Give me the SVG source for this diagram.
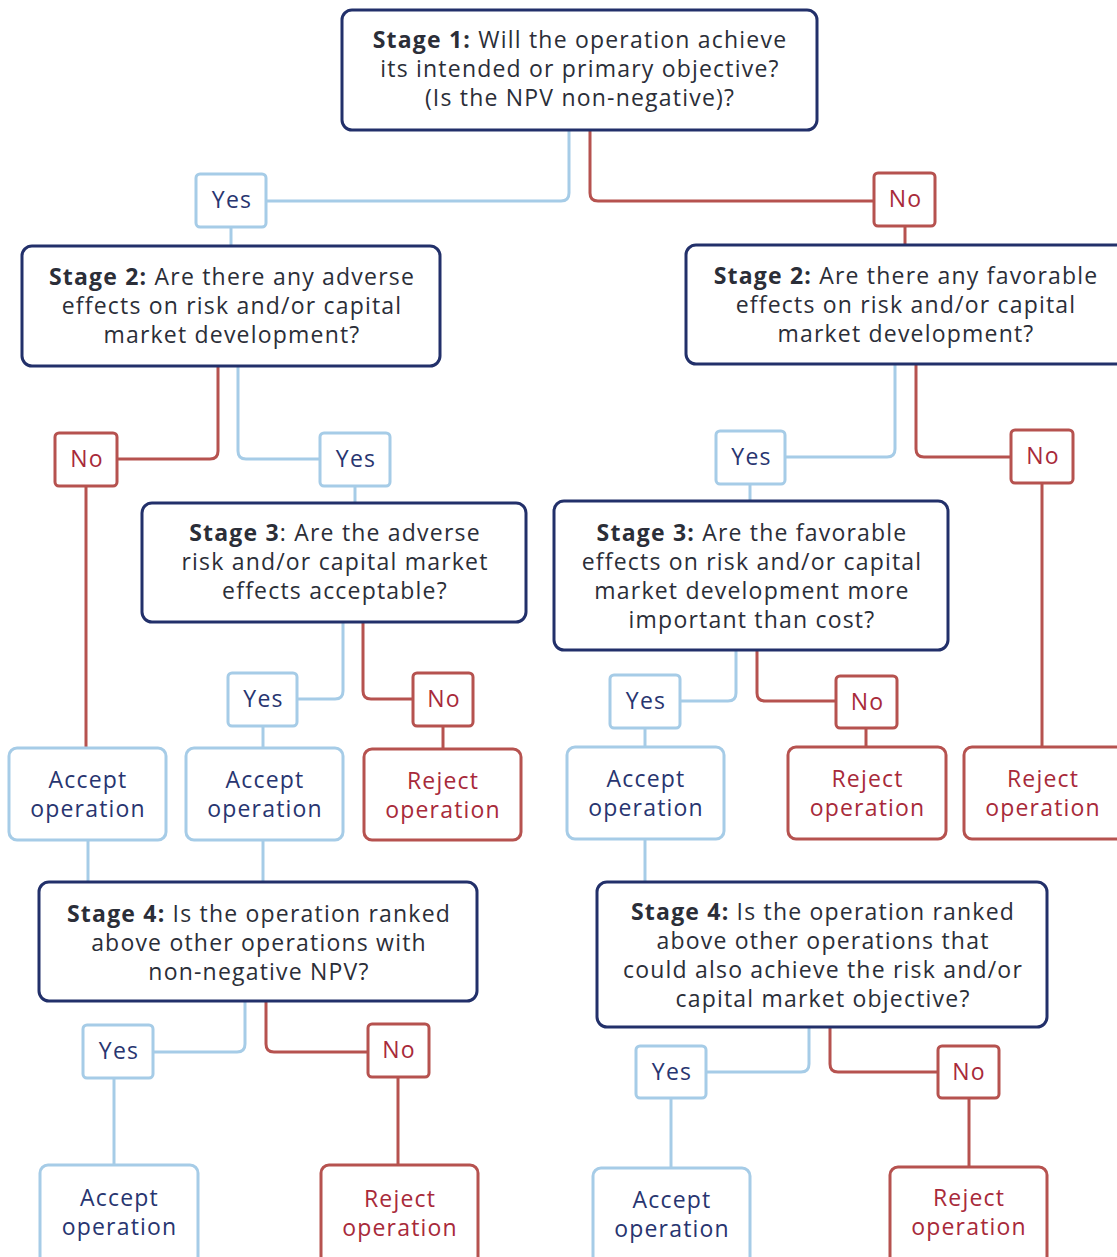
<svg xmlns="http://www.w3.org/2000/svg" width="1117" height="1257" viewBox="0 0 1117 1257">
<style>
.bg{fill:#ffffff}
.stage{fill:#ffffff;stroke:#22306a;stroke-width:3}
.yesb{fill:#ffffff;stroke:#a6cce7;stroke-width:3}
.nob{fill:#ffffff;stroke:#b6524f;stroke-width:3}
.cy{fill:none;stroke:#a6cce7;stroke-width:3}
.cn{fill:none;stroke:#b6524f;stroke-width:3}
text{font-family:"Open Sans","Liberation Sans",sans-serif;font-size:23px;letter-spacing:1.2px;text-anchor:middle}
.st{fill:#2b2e38}
.b{font-weight:bold}
.ty{fill:#283570}
.tn{fill:#a82a3a}
</style>
<rect class="bg" x="0" y="0" width="1117" height="1257"/>
<g id="connectors">
<path class="cy" d="M569,130 V193 Q569,201 561,201 H266"/>
<path class="cy" d="M231,227 V246"/>
<path class="cy" d="M238,366 V451 Q238,459 246,459 H320"/>
<path class="cy" d="M355,486 V503"/>
<path class="cy" d="M343,622 V691 Q343,699 335,699 H297"/>
<path class="cy" d="M263,726 V748"/>
<path class="cy" d="M88,840 V882"/>
<path class="cy" d="M263,840 V882"/>
<path class="cy" d="M245,1001 V1044 Q245,1052 237,1052 H153"/>
<path class="cy" d="M114,1078 V1165"/>
<path class="cy" d="M895,364 V449 Q895,457 887,457 H785"/>
<path class="cy" d="M750,484 V501"/>
<path class="cy" d="M736,650 V693 Q736,701 728,701 H680"/>
<path class="cy" d="M645,728 V747"/>
<path class="cy" d="M645,839 V882"/>
<path class="cy" d="M809,1027 V1064 Q809,1072 801,1072 H706"/>
<path class="cy" d="M671,1098 V1168"/>
<path class="cn" d="M590,130 V193 Q590,201 598,201 H874"/>
<path class="cn" d="M905,226 V245"/>
<path class="cn" d="M218,366 V451 Q218,459 210,459 H117"/>
<path class="cn" d="M86,486 V748"/>
<path class="cn" d="M363,622 V691 Q363,699 371,699 H413"/>
<path class="cn" d="M443,726 V749"/>
<path class="cn" d="M266,1001 V1044 Q266,1052 274,1052 H368"/>
<path class="cn" d="M398,1077 V1165"/>
<path class="cn" d="M916,364 V449 Q916,457 924,457 H1011"/>
<path class="cn" d="M1042,483 V746"/>
<path class="cn" d="M757,650 V693 Q757,701 765,701 H836"/>
<path class="cn" d="M866,728 V747"/>
<path class="cn" d="M830,1027 V1064 Q830,1072 838,1072 H938"/>
<path class="cn" d="M969,1098 V1167"/>
</g>
<g id="stage1">
<rect class="stage" x="342" y="10" width="475" height="120" rx="10"/>
<text class="st" x="580" y="48"><tspan class="b">Stage 1:</tspan> Will the operation achieve</text>
<text class="st" x="580" y="77">its intended or primary objective?</text>
<text class="st" x="580" y="106">(Is the NPV non-negative)?</text>
</g>
<g id="yes1"><rect class="yesb" x="196" y="174" width="70" height="53" rx="4"/><text class="ty" x="232" y="208">Yes</text></g>
<g id="no1"><rect class="nob" x="874" y="173" width="61" height="53" rx="4"/><text class="tn" x="905.5" y="207">No</text></g>
<g id="stage2-adverse">
<rect class="stage" x="22" y="246" width="418" height="120" rx="10"/>
<text class="st" x="232" y="285"><tspan class="b">Stage 2:</tspan> Are there any adverse</text>
<text class="st" x="232" y="314">effects on risk and/or capital</text>
<text class="st" x="232" y="343">market development?</text>
</g>
<g id="stage2-favorable">
<rect class="stage" x="686" y="245" width="445" height="119" rx="10"/>
<text class="st" x="906" y="284"><tspan class="b">Stage 2:</tspan> Are there any favorable</text>
<text class="st" x="906" y="313">effects on risk and/or capital</text>
<text class="st" x="906" y="342">market development?</text>
</g>
<g id="no2l"><rect class="nob" x="55" y="433" width="62" height="53" rx="4"/><text class="tn" x="87" y="467">No</text></g>
<g id="yes2l"><rect class="yesb" x="320" y="433" width="70" height="53" rx="4"/><text class="ty" x="356" y="467">Yes</text></g>
<g id="yes2r"><rect class="yesb" x="716" y="431" width="69" height="53" rx="4"/><text class="ty" x="751.5" y="465">Yes</text></g>
<g id="no2r"><rect class="nob" x="1011" y="430" width="62" height="53" rx="4"/><text class="tn" x="1043" y="464">No</text></g>
<g id="stage3-adverse">
<rect class="stage" x="142" y="503" width="384" height="119" rx="10"/>
<text class="st" x="335" y="541"><tspan class="b">Stage 3</tspan>: Are the adverse</text>
<text class="st" x="335" y="570">risk and/or capital market</text>
<text class="st" x="335" y="599">effects acceptable?</text>
</g>
<g id="stage3-favorable">
<rect class="stage" x="554" y="501" width="394" height="149" rx="10"/>
<text class="st" x="752" y="541"><tspan class="b">Stage 3:</tspan> Are the favorable</text>
<text class="st" x="752" y="570">effects on risk and/or capital</text>
<text class="st" x="752" y="599">market development more</text>
<text class="st" x="752" y="628">important than cost?</text>
</g>
<g id="yes3l"><rect class="yesb" x="228" y="673" width="69" height="53" rx="4"/><text class="ty" x="263.5" y="707">Yes</text></g>
<g id="no3l"><rect class="nob" x="413" y="673" width="60" height="53" rx="4"/><text class="tn" x="444" y="707">No</text></g>
<g id="yes3r"><rect class="yesb" x="610" y="675" width="70" height="53" rx="4"/><text class="ty" x="646" y="709">Yes</text></g>
<g id="no3r"><rect class="nob" x="836" y="676" width="61" height="52" rx="4"/><text class="tn" x="867.5" y="710">No</text></g>
<g id="accept1"><rect class="yesb" x="9" y="748" width="157" height="92" rx="8"/><text class="ty" x="88" y="788">Accept</text><text class="ty" x="88" y="817">operation</text></g>
<g id="accept2"><rect class="yesb" x="186" y="748" width="157" height="92" rx="8"/><text class="ty" x="265" y="788">Accept</text><text class="ty" x="265" y="817">operation</text></g>
<g id="reject1"><rect class="nob" x="364" y="749" width="157" height="91" rx="8"/><text class="tn" x="443" y="789">Reject</text><text class="tn" x="443" y="818">operation</text></g>
<g id="accept3"><rect class="yesb" x="567" y="747" width="157" height="92" rx="8"/><text class="ty" x="646" y="787">Accept</text><text class="ty" x="646" y="816">operation</text></g>
<g id="reject2"><rect class="nob" x="788" y="747" width="158" height="92" rx="8"/><text class="tn" x="867.5" y="787">Reject</text><text class="tn" x="867.5" y="816">operation</text></g>
<g id="reject3"><rect class="nob" x="964" y="747" width="165" height="92" rx="8"/><text class="tn" x="1043" y="787">Reject</text><text class="tn" x="1043" y="816">operation</text></g>
<g id="stage4-npv">
<rect class="stage" x="39" y="882" width="438" height="119" rx="10"/>
<text class="st" x="259" y="922"><tspan class="b">Stage 4:</tspan> Is the operation ranked</text>
<text class="st" x="259" y="951">above other operations with</text>
<text class="st" x="259" y="980">non-negative NPV?</text>
</g>
<g id="stage4-risk">
<rect class="stage" x="597" y="882" width="450" height="145" rx="10"/>
<text class="st" x="823" y="920"><tspan class="b">Stage 4:</tspan> Is the operation ranked</text>
<text class="st" x="823" y="949">above other operations that</text>
<text class="st" x="823" y="978">could also achieve the risk and/or</text>
<text class="st" x="823" y="1007">capital market objective?</text>
</g>
<g id="yes4l"><rect class="yesb" x="83" y="1025" width="70" height="53" rx="4"/><text class="ty" x="119" y="1059">Yes</text></g>
<g id="no4l"><rect class="nob" x="368" y="1024" width="61" height="53" rx="4"/><text class="tn" x="399" y="1058">No</text></g>
<g id="yes4r"><rect class="yesb" x="636" y="1046" width="70" height="52" rx="4"/><text class="ty" x="672" y="1080">Yes</text></g>
<g id="no4r"><rect class="nob" x="938" y="1046" width="61" height="52" rx="4"/><text class="tn" x="969" y="1080">No</text></g>
<g id="accept4"><rect class="yesb" x="40" y="1165" width="158" height="110" rx="8"/><text class="ty" x="119.5" y="1206">Accept</text><text class="ty" x="119.5" y="1235">operation</text></g>
<g id="reject4"><rect class="nob" x="321" y="1165" width="157" height="110" rx="8"/><text class="tn" x="400" y="1207">Reject</text><text class="tn" x="400" y="1236">operation</text></g>
<g id="accept5"><rect class="yesb" x="593" y="1168" width="157" height="110" rx="8"/><text class="ty" x="672" y="1208">Accept</text><text class="ty" x="672" y="1237">operation</text></g>
<g id="reject5"><rect class="nob" x="890" y="1167" width="157" height="110" rx="8"/><text class="tn" x="969" y="1206">Reject</text><text class="tn" x="969" y="1235">operation</text></g>
</svg>
